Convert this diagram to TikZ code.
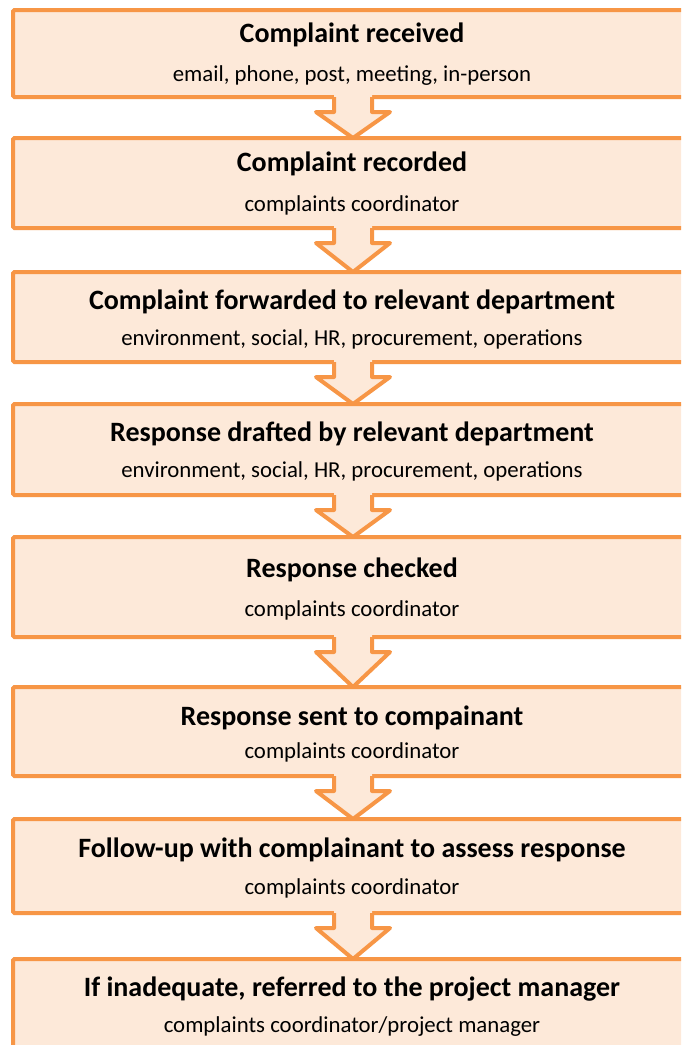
\documentclass[tikz,border=0pt]{standalone}
\usepackage{fontspec}
\setmainfont{Carlito}
\usetikzlibrary{calc}
\definecolor{edgeorange}{HTML}{F79646}
\definecolor{paleorange}{HTML}{FDE9D9}
\tikzset{
  stage/.style={draw=edgeorange, fill=paleorange, line width=4pt, rounded corners=1.5pt,
    minimum width=687pt, inner sep=0pt, outer sep=0pt, anchor=north west},
  headline/.style={font=\bfseries\fontsize{28}{33}\selectfont, anchor=base, inner sep=0pt},
  detail/.style={font=\fontsize{22.8}{27}\selectfont, anchor=base, inner sep=0pt},
  arrowline/.style={draw=edgeorange, line width=4pt, line join=round},
}
% block arrow from the bottom of one stage to the top of the next
\newcommand\stagearrow[2]{%
  \coordinate (atop) at (#1.south -| 353,0);
  \coordinate (atip) at (#2.north -| 353,0);
  \fill[paleorange] ($(atop)+(-19,-4)$) -- ($(atop)+(-19,15)$) -- ($(atop)+(-37,15)$) --
    (atip) -- ($(atop)+(37,15)$) -- ($(atop)+(19,15)$) -- ($(atop)+(19,-4)$) -- cycle;
  \draw[arrowline] ($(atop)+(-19,0)$) -- ($(atop)+(-19,15)$) -- ($(atop)+(-37,15)$) --
    (atip) -- ($(atop)+(37,15)$) -- ($(atop)+(19,15)$) -- ($(atop)+(19,0)$);
}
\begin{document}
\begin{tikzpicture}[x=1pt, y=-1pt]
  \clip (0,0) rectangle (681,1045);
  \fill[white] (0,0) rectangle (681,1045);

  \node[stage, minimum height=87pt] (s1) at (13,10) {};
  \node[stage, minimum height=90pt] (s2) at (13,138) {};
  \node[stage, minimum height=90pt] (s3) at (13,272) {};
  \node[stage, minimum height=91pt] (s4) at (13,404) {};
  \node[stage, minimum height=100pt] (s5) at (13,537) {};
  \node[stage, minimum height=89pt] (s6) at (13,687) {};
  \node[stage, minimum height=94pt] (s7) at (13,819) {};
  \node[stage, minimum height=110pt] (s8) at (13,959) {};

  \stagearrow{s1}{s2}
  \stagearrow{s2}{s3}
  \stagearrow{s3}{s4}
  \stagearrow{s4}{s5}
  \stagearrow{s5}{s6}
  \stagearrow{s6}{s7}
  \stagearrow{s7}{s8}

  \node[headline] (h1) at (352,42) {Complaint received};
  \node[detail] (d1) at (352,81) {email, phone, post, meeting, in-person};
  \node[headline] (h2) at (352,171) {Complaint recorded};
  \node[detail] (d2) at (352,211) {complaints coordinator};
  \node[headline] (h3) at (352,309) {Complaint forwarded to relevant department};
  \node[detail] (d3) at (352,345) {environment, social, HR, procurement, operations};
  \node[headline] (h4) at (352,441) {Response drafted by relevant department};
  \node[detail] (d4) at (352,477) {environment, social, HR, procurement, operations};
  \node[headline] (h5) at (352,577) {Response checked};
  \node[detail] (d5) at (352,616) {complaints coordinator};
  \node[headline] (h6) at (352,725) {Response sent to compainant};
  \node[detail] (d6) at (352,758) {complaints coordinator};
  \node[headline] (h7) at (352,857) {Follow-up with complainant to assess response};
  \node[detail] (d7) at (352,894) {complaints coordinator};
  \node[headline] (h8) at (352,996) {If inadequate, referred to the project manager};
  \node[detail] (d8) at (352,1032) {complaints coordinator/project manager};
\end{tikzpicture}
\end{document}
